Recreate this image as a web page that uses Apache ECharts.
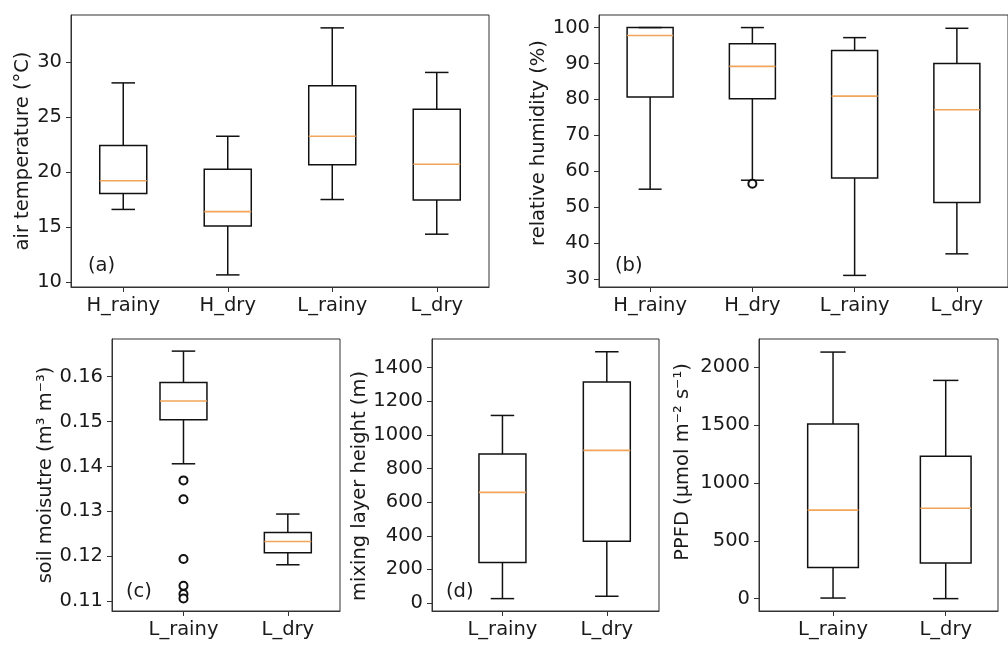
<!DOCTYPE html>
<html>
<head>
<meta charset="utf-8">
<script src="https://cdn.jsdelivr.net/npm/echarts@6/dist/echarts.min.js"></script>
<style>
html, body { margin: 0; padding: 0; background: #fff; }
#chart { width: 1008px; height: 650px; }
</style>
</head>
<body>
<div id="chart"></div>
<script>
// categories
const catsAB = ['H_rainy', 'H_dry', 'L_rainy', 'L_dry']
const catsCDE = ['L_rainy', 'L_dry']

// box stats per category: [lower whisker, Q1, median, Q3, upper whisker]
const airTemp = [
  [16.6, 18.05, 19.2, 22.4, 28.1],
  [10.65, 15.1, 16.4, 20.25, 23.25],
  [17.5, 20.65, 23.25, 27.85, 33.1],
  [14.35, 17.45, 20.7, 25.7, 29.05]
]
const humidity = [
  [55.0, 80.7, 97.8, 100, 100],
  [57.5, 80.2, 89.2, 95.5, 100],
  [31.0, 58.1, 80.9, 93.6, 97.2],
  [37.0, 51.3, 77.1, 90.0, 99.8]
]
const humidityOutliersHDry = [56.5]

const soil = [
  [0.1406, 0.1504, 0.1546, 0.1587, 0.1657],
  [0.1181, 0.1208, 0.1233, 0.1253, 0.1294]
]
const soilOutliersLRainy = [0.1369, 0.1327, 0.1194, 0.1134, 0.1116, 0.1106]

const mixing = [
  [26, 241, 658, 886, 1116],
  [40, 368, 908, 1315, 1495]
]
const ppfd = [
  [5, 270, 765, 1511, 2132],
  [0, 307, 782, 1231, 1887]
]

// tick labels
const tempTicks = [10, 15, 20, 25, 30]
const humTicks = [30, 40, 50, 60, 70, 80, 90, 100]
const soilTicks = [0.11, 0.12, 0.13, 0.14, 0.15, 0.16]
const mixTicks = [0, 200, 400, 600, 800, 1000, 1200, 1400]
const ppfdTicks = [0, 500, 1000, 1500, 2000]

const FONT = 'DejaVu Sans'
const TXT = '#1a1a1a'
const MEDIAN = '#f0a55a'

function renderBox (params, api) {
  const x = api.value(0)
  const hw = 0.225
  const cw = 0.1125
  const lo = api.coord([x, api.value(1)])
  const q1 = api.coord([x - hw, api.value(2)])
  const med = api.coord([x - hw, api.value(3)])
  const q3 = api.coord([x + hw, api.value(4)])
  const hi = api.coord([x, api.value(5)])
  const capL = api.coord([x - cw, 0])[0]
  const capR = api.coord([x + cw, 0])[0]
  const line = { stroke: '#111', lineWidth: 1.5 }
  return {
    type: 'group',
    children: [
      { type: 'line', shape: { x1: lo[0], y1: lo[1], x2: lo[0], y2: q1[1] }, style: line },
      { type: 'line', shape: { x1: hi[0], y1: hi[1], x2: hi[0], y2: q3[1] }, style: line },
      { type: 'line', shape: { x1: capL, y1: lo[1], x2: capR, y2: lo[1] }, style: line },
      { type: 'line', shape: { x1: capL, y1: hi[1], x2: capR, y2: hi[1] }, style: line },
      { type: 'rect', shape: { x: q1[0], y: q3[1], width: q3[0] - q1[0], height: q1[1] - q3[1] }, style: { fill: 'none', stroke: '#111', lineWidth: 1.5 } },
      { type: 'line', shape: { x1: q1[0], y1: med[1], x2: q3[0], y2: med[1] }, style: { stroke: MEDIAN, lineWidth: 1.6 } }
    ]
  }
}

// one panel = grid + axes + box series (+ outliers)
const panels = [
  { grid: { left: 71, top: 15, width: 418, height: 272 }, x: [0.5, 4.5], y: [9.55, 34.27], cats: catsAB, stats: airTemp, ticks: tempTicks, name: 'air temperature (°C)', gap: 38, pad: [0, 0, 0, 0] },
  { grid: { left: 599, top: 15, width: 418, height: 272 }, x: [0.5, 4.5], y: [27.77, 103.5], cats: catsAB, stats: humidity, ticks: humTicks, name: 'relative humidity (%)', gap: 42, pad: [0, 0, 0, 16], outliers: humidityOutliersHDry.map(v => [2, v]) },
  { grid: { left: 112, top: 339, width: 228, height: 272 }, x: [0.315, 2.5], y: [0.1078, 0.1684], cats: catsCDE, stats: soil, ticks: soilTicks, name: 'soil moisutre (m³ m⁻³)', gap: 56, pad: [0, 0, 0, 0], fmt: v => v.toFixed(2), outliers: soilOutliersLRainy.map(v => [1, v]) },
  { grid: { left: 432, top: 339, width: 227, height: 272 }, x: [0.325, 2.5], y: [-47.7, 1571], cats: catsCDE, stats: mixing, ticks: mixTicks, name: 'mixing layer height (m)', gap: 61, pad: [0, 22, 0, 0] },
  { grid: { left: 759, top: 339, width: 239, height: 272 }, x: [0.343, 2.464], y: [-107, 2245], cats: catsCDE, stats: ppfd, ticks: ppfdTicks, name: 'PPFD (μmol m⁻² s⁻¹)', gap: 66, pad: [0, 0, 0, 26] }
]

const option = {
  animation: false,
  backgroundColor: '#fff',
  textStyle: { fontFamily: FONT },
  grid: [],
  xAxis: [],
  yAxis: [],
  series: [],
  graphic: [
    { type: 'text', left: 88, top: 256, style: { text: '(a)', font: '19.5px "DejaVu Sans"', fill: TXT } },
    { type: 'text', left: 615, top: 256, style: { text: '(b)', font: '19.5px "DejaVu Sans"', fill: TXT } },
    { type: 'text', left: 126, top: 582, style: { text: '(c)', font: '19.5px "DejaVu Sans"', fill: TXT } },
    { type: 'text', left: 446, top: 582, style: { text: '(d)', font: '19.5px "DejaVu Sans"', fill: TXT } }
  ]
}

panels.forEach((p, i) => {
  const xTicks = p.cats.map((c, k) => k + 1)
  option.grid.push(Object.assign({ show: true, borderColor: '#333', borderWidth: 1, backgroundColor: 'transparent' }, p.grid))
  option.xAxis.push({
    type: 'value',
    gridIndex: i,
    min: p.x[0],
    max: p.x[1],
    splitLine: { show: false },
    axisLine: { show: true, onZero: false, lineStyle: { color: '#333' } },
    axisTick: { show: true, length: 5, customValues: xTicks, lineStyle: { color: '#333' } },
    axisLabel: { customValues: xTicks, margin: 9, fontSize: 19.5, color: TXT, formatter: v => p.cats[Math.round(v) - 1] }
  })
  option.yAxis.push({
    type: 'value',
    gridIndex: i,
    min: p.y[0],
    max: p.y[1],
    name: p.name,
    nameLocation: 'middle',
    nameGap: p.gap,
    nameTextStyle: { fontSize: 19.5, color: TXT, padding: p.pad },
    splitLine: { show: false },
    axisLine: { show: true, onZero: false, lineStyle: { color: '#333' } },
    axisTick: { show: true, length: 5, customValues: p.ticks, lineStyle: { color: '#333' } },
    axisLabel: { customValues: p.ticks, margin: 9, fontSize: 19.5, color: TXT, formatter: p.fmt || (v => String(v)) }
  })
  option.series.push({
    type: 'custom',
    xAxisIndex: i,
    yAxisIndex: i,
    renderItem: renderBox,
    encode: { x: 0, y: [1, 2, 3, 4, 5] },
    data: p.stats.map((s, k) => [k + 1].concat(s))
  })
  if (p.outliers) {
    option.series.push({
      type: 'scatter',
      xAxisIndex: i,
      yAxisIndex: i,
      symbol: 'emptyCircle',
      symbolSize: 8,
      itemStyle: { color: '#111', borderColor: '#111', borderWidth: 1.2, opacity: 1 },
      data: p.outliers
    })
  }
})

const myChart = echarts.init(document.getElementById('chart'))
myChart.setOption(option)
</script>
</body>
</html>
